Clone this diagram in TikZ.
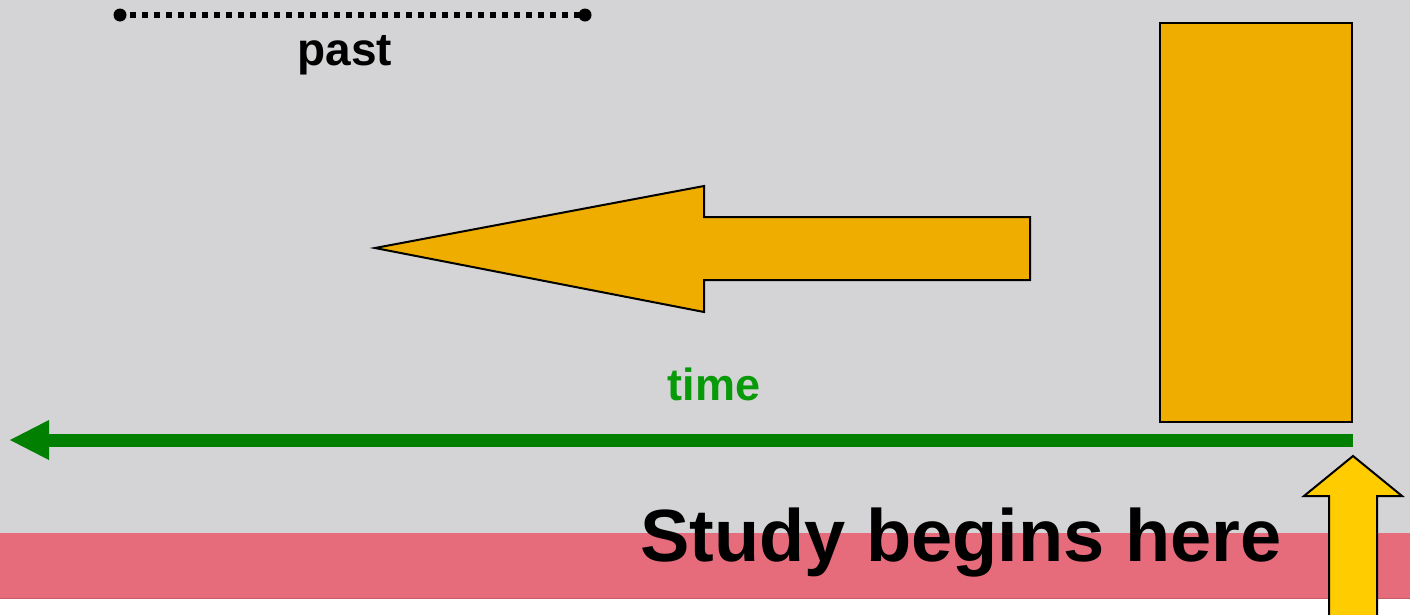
\documentclass[tikz,border=0pt]{standalone}
\usepackage{fontspec}
\setmainfont{Liberation Sans}
\definecolor{bggray}{HTML}{D4D4D6}
\definecolor{bandpink}{HTML}{E66C7C}
\definecolor{orangefill}{HTML}{EFAD00}
\definecolor{yellowfill}{HTML}{FFCC00}
\definecolor{linegreen}{HTML}{007F00}
\definecolor{textgreen}{HTML}{089A08}
\tikzset{
  shape outline/.style={draw=black, line width=2pt, line join=miter},
  label text/.style={font=\bfseries, inner sep=0pt, anchor=base},
}
\begin{document}
\begin{tikzpicture}[x=1pt,y=-1pt]
\useasboundingbox (0,0) rectangle (1410,614);
% backgrounds
\fill[white] (0,0) rectangle (1410,614);
\fill[bggray] (0,0) rectangle (1410,533);
\fill[bandpink] (0,533) rectangle (1410,598);
\draw[bandpink!85!black, line width=1pt] (0,598) -- (1410,598);
% dotted "past" interval
\coordinate (pl) at (120,15);
\coordinate (pr) at (585,15);
\draw[line width=6pt, dash pattern=on 6pt off 6pt] ([xshift=10pt]pl) -- ([xshift=-6pt]pr);
\fill (pl) circle (6.5pt);
\fill (pr) circle (6.5pt);
\node[label text, font=\fontsize{46}{48}\selectfont\bfseries] (past) at (345,65) {past};
% large orange left arrow
\draw[shape outline, fill=orangefill] (375,248) -- (704,186) -- (704,217) -- (1030,217) -- (1030,280) -- (704,280) -- (704,312) -- cycle;
% orange rectangle
\node[shape outline, fill=orangefill, minimum width=192pt, minimum height=399pt, inner sep=0pt] (box) at (1256,222.5) {};
% time label
\node[label text, text=textgreen, font=\fontsize{45}{47}\selectfont\bfseries] (time) at (714,400) {time};
% green time axis
\coordinate (tstart) at (1353,440);
\coordinate (tend) at (49,440);
\draw[linegreen, line width=13pt] (tstart) -- (tend);
\fill[linegreen] (10,440) -- (49,420) -- (49,460) -- cycle;
% yellow up arrow
\draw[shape outline, fill=yellowfill] (1353,456) -- (1402,496) -- (1377,496) -- (1377,630) -- (1329,630) -- (1329,496) -- (1304,496) -- cycle;
% study label
\node[label text, font=\fontsize{74}{76}\selectfont\bfseries] (study) at (961,561) {Study begins here};
\end{tikzpicture}
\end{document}
